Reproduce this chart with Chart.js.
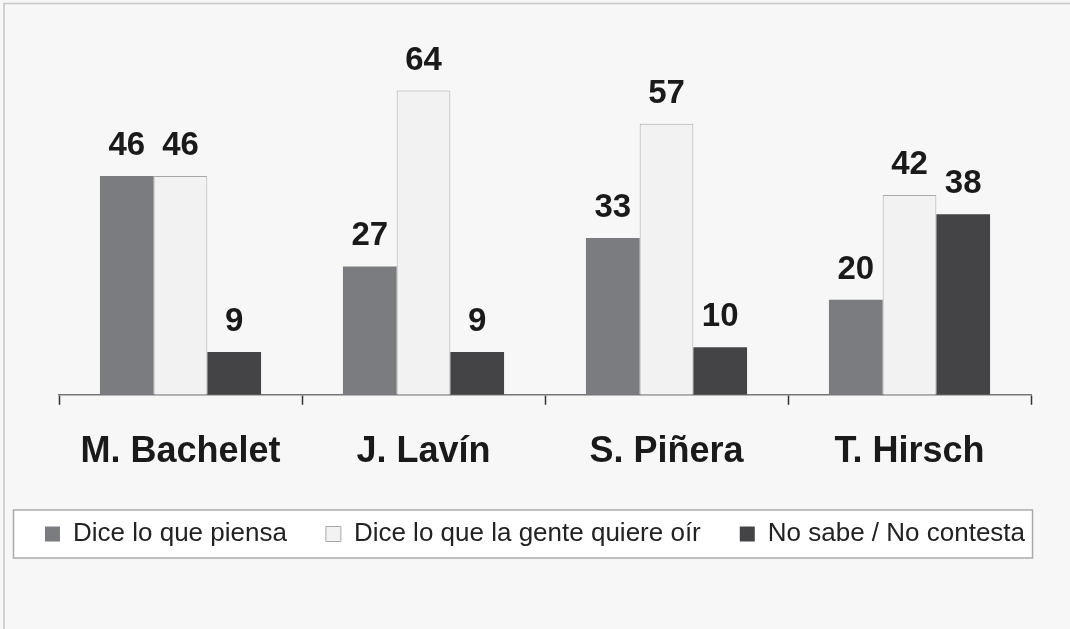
<!DOCTYPE html>
<html>
<head>
<meta charset="utf-8">
<script src="https://cdn.jsdelivr.net/npm/chart.js@4/dist/chart.umd.min.js"></script>
<style>
  html, body { margin: 0; padding: 0; background: #f7f7f7; }
  #wrap { width: 1070px; height: 629px; }
</style>
</head>
<body>
<div id="wrap"><canvas id="chart" width="1070" height="629"></canvas></div>
<script>
        const candidates = ['M. Bachelet', 'J. Lavín', 'S. Piñera', 'T. Hirsch'];
        const seriesNames = ['Dice lo que piensa', 'Dice lo que la gente quiere oír', 'No sabe / No contesta'];
        const dicePiensa = [46, 27, 33, 20];
        const genteQuiere = [46, 64, 57, 42];
        const noSabe = [9, 9, 10, 38];

        const FONT = '"Liberation Sans", Arial, sans-serif';

        // background, frame lines and the box round the legend
        const framePlugin = {
            id: 'frame',
            beforeDraw(chart) {
                const ctx = chart.ctx;
                ctx.save();
                ctx.fillStyle = '#f7f7f7';
                ctx.fillRect(0, 0, chart.width, chart.height);
                ctx.strokeStyle = '#c8c8c8';
                ctx.lineWidth = 1.5;
                ctx.beginPath();
                ctx.moveTo(4, chart.height);
                ctx.lineTo(4, 3.5);
                ctx.lineTo(chart.width, 3.5);
                ctx.stroke();

                const boxes = chart.legend.legendHitBoxes;
                if (boxes && boxes.length) {
                    const first = boxes[0];
                    const last = boxes[boxes.length - 1];
                    const cy = first.top + first.height / 2;
                    const left = first.left - 31.5;
                    const right = last.left + last.width + 7.5;
                    ctx.fillStyle = '#ffffff';
                    ctx.fillRect(left, cy - 24, right - left, 48);
                    ctx.strokeStyle = '#aaaaaa';
                    ctx.lineWidth = 1.5;
                    ctx.strokeRect(left, cy - 24, right - left, 48);
                }
                ctx.restore();
            }
        };

        // value labels above each bar
        const valueLabels = {
            id: 'valueLabels',
            afterDatasetsDraw(chart) {
                const ctx = chart.ctx;
                ctx.save();
                ctx.font = 'bold 33px ' + FONT;
                ctx.fillStyle = '#1a1a1a';
                ctx.textAlign = 'center';
                ctx.textBaseline = 'alphabetic';
                chart.data.datasets.forEach((ds, i) => {
                    chart.getDatasetMeta(i).data.forEach((bar, j) => {
                        ctx.fillText(ds.data[j], bar.x, bar.y - 21);
                    });
                });
                ctx.restore();
            }
        };

        // invisible side axes only used to place the plot area
        const spacer = (w) => ({
            display: true,
            grid: { display: false },
            border: { display: false },
            ticks: { display: false },
            afterFit(scale) { scale.width = w; }
        });

        new Chart(document.getElementById('chart').getContext('2d'), {
            type: 'bar',
            data: {
                labels: candidates,
                datasets: [
                    {
                        label: seriesNames[0],
                        data: dicePiensa,
                        backgroundColor: '#7b7c80',
                        borderColor: '#7b7c80',
                        borderWidth: 0
                    },
                    {
                        label: seriesNames[1],
                        data: genteQuiere,
                        backgroundColor: '#f2f2f2',
                        borderColor: '#a8a8a8',
                        borderWidth: 1
                    },
                    {
                        label: seriesNames[2],
                        data: noSabe,
                        backgroundColor: '#444446',
                        borderColor: '#444446',
                        borderWidth: 0
                    }
                ]
            },
            options: {
                responsive: false,
                animation: false,
                layout: {
                    padding: { left: 4, right: 4, top: 62, bottom: 72 }
                },
                datasets: {
                    bar: { categoryPercentage: 0.663, barPercentage: 1.0 }
                },
                scales: {
                    x: {
                        grid: {
                            drawOnChartArea: false,
                            tickLength: 10,
                            tickColor: '#333333',
                            tickWidth: 1.5
                        },
                        border: { color: '#777777', width: 1.5 },
                        ticks: {
                            color: '#1a1a1a',
                            padding: 26,
                            font: { family: FONT, size: 36, weight: 'bold' }
                        },
                        afterFit(scale) { scale.height = 78; }
                    },
                    y: Object.assign(spacer(55), { position: 'left', min: 0, max: 70 }),
                    yRight: Object.assign(spacer(35), { position: 'right', min: 0, max: 70 })
                },
                plugins: {
                    tooltip: { enabled: false },
                    legend: {
                        position: 'bottom',
                        title: { display: true, text: ' ', font: { size: 1 }, padding: { top: 8, bottom: 0 } },
                        labels: {
                            boxWidth: 15,
                            boxHeight: 15,
                            padding: 39,
                            color: '#222222',
                            font: { family: FONT, size: 26 }
                        }
                    }
                }
            },
            plugins: [framePlugin, valueLabels]
        });
</script>
</body>
</html>
